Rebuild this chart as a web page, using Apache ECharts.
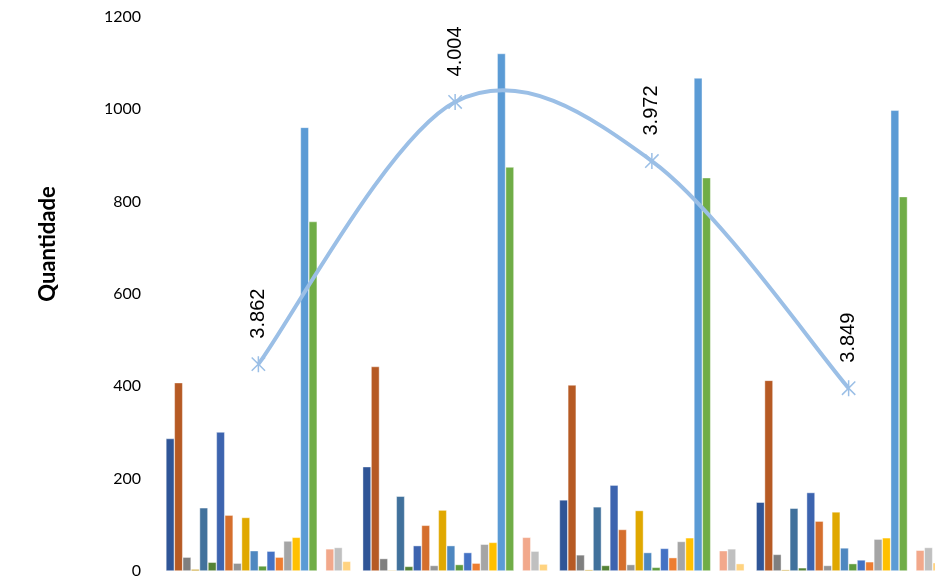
<!DOCTYPE html>
<html>
<head>
<meta charset="utf-8">
<script src="https://cdn.jsdelivr.net/npm/echarts@6/dist/echarts.min.js"></script>
<style>html,body{margin:0;padding:0;background:#fff}#c{width:935px;height:579px}</style>
</head>
<body>
<div id="c"></div>
<script>
var categories = ['Grupo 1', 'Grupo 2', 'Grupo 3', 'Grupo 4'];
var g1 = [287, 408, 30, 4, 137, 19, 301, 121, 17, 116, 44, 11, 43, 30, 65, 73, 961, 757, 0, 48, 51, 21];
var g2 = [226, 443, 27, 2, 162, 10, 55, 99, 12, 132, 55, 14, 40, 17, 58, 62, 1121, 875, 0, 73, 43, 15];
var g3 = [154, 403, 35, 3, 139, 12, 186, 90, 14, 131, 40, 8, 49, 29, 64, 72, 1068, 852, 0, 44, 48, 16];
var g4 = [149, 413, 36, 3, 136, 7, 170, 108, 12, 128, 50, 16, 24, 20, 69, 72, 998, 811, 0, 45, 51, 18];
var media = [3.862, 4.004, 3.972, 3.849];
var yTicks = [0, 200, 400, 600, 800, 1000, 1200];
var colors = ['#2F5597', '#B65A24', '#7F7F7F', '#BF9000', '#41719C', '#548235', '#3D64AF', '#D56F2D',
  '#959595', '#E0A800', '#4E87C0', '#5E9B3E', '#4472C4', '#ED7D31', '#A5A5A5', '#FFC000',
  '#5B9BD5', '#70AD47', '#264478', '#F2A88B', '#C0C0C0', '#FFD380'];
var lineColor = '#9BBFE6';

var groups = [g1, g2, g3, g4];
var series = [];
for (var i = 0; i < colors.length; i++) {
  series.push({
    name: 'Série ' + (i + 1),
    type: 'bar',
    barGap: '0%',
    barCategoryGap: '6%',
    data: groups.map(function (g) { return g[i]; }),
    itemStyle: { color: colors[i], borderColor: 'rgba(255,255,255,0.7)', borderWidth: 0.6 }
  });
}
// Smooth curve (Excel-like Catmull-Rom) drawn through the axis scales
series.push({
  name: 'Média (curva)',
  type: 'custom',
  yAxisIndex: 1,
  data: media.map(function (v, i) { return [i, v]; }),
  encode: { x: 0, y: 1 },
  z: 4,
  silent: true,
  clip: false,
  renderItem: function (params, api) {
    if (params.dataIndex !== 0) return null;
    var p = media.map(function (v, i) { return api.coord([i, v]); });
    var n = p.length;
    var d = 'M' + p[0][0] + ',' + p[0][1];
    for (var k = 0; k < n - 1; k++) {
      var p0 = p[Math.max(k - 1, 0)], p1 = p[k], p2 = p[k + 1], p3 = p[Math.min(k + 2, n - 1)];
      var c1x = p1[0] + (p2[0] - p0[0]) / 6, c1y = p1[1] + (p2[1] - p0[1]) / 6;
      var c2x = p2[0] - (p3[0] - p1[0]) / 6, c2y = p2[1] - (p3[1] - p1[1]) / 6;
      d += 'C' + c1x + ',' + c1y + ' ' + c2x + ',' + c2y + ' ' + p2[0] + ',' + p2[1];
    }
    return {
      type: 'path',
      shape: { pathData: d },
      style: { stroke: lineColor, lineWidth: 4, fill: 'none' }
    };
  }
});
series.push({
  name: 'Média',
  type: 'line',
  yAxisIndex: 1,
  data: media,
  symbol: 'path://M0,0L10,10M10,0L0,10M5,-1L5,11',
  symbolSize: 16,
  symbolKeepAspect: true,
  lineStyle: { opacity: 0, width: 0 },
  itemStyle: { color: 'none', borderColor: lineColor, borderWidth: 1.5 },
  label: {
    show: true,
    position: 'top',
    distance: 15,
    rotate: 90,
    align: 'left',
    verticalAlign: 'middle',
    fontFamily: 'Liberation Sans',
    fontSize: 20,
    color: '#000',
    formatter: function (p) { return p.value.toFixed(3); }
  },
  z: 5
});

var chart = echarts.init(document.getElementById('c'), null, { renderer: 'canvas' });
chart.setOption({
  animation: false,
  grid: { left: 160, width: 787, top: 17, bottom: 8, containLabel: false, outerBoundsMode: 'none' },
  graphic: [{
    type: 'text',
    x: 48,
    y: 244,
    rotation: Math.PI / 2,
    style: {
      text: 'Quantidade',
      align: 'center',
      verticalAlign: 'middle',
      fontFamily: 'Lato',
      fontWeight: 'bold',
      fontSize: 22,
      fill: '#000'
    }
  }],
  xAxis: {
    type: 'category',
    data: categories,
    axisLine: { show: false },
    axisTick: { show: false },
    axisLabel: { show: false },
    splitLine: { show: false }
  },
  yAxis: [{
    type: 'value',
    min: yTicks[0],
    max: yTicks[yTicks.length - 1],
    interval: 200,
    axisLine: { show: false },
    axisTick: { show: false },
    splitLine: { show: false },
    axisLabel: {
      fontFamily: 'Lato', fontSize: 16, color: '#000', margin: 19,
      formatter: function (v) { return String(v); }
    }
  }, {
    type: 'value',
    min: 3.75,
    max: 4.05,
    show: false,
    splitLine: { show: false }
  }],
  series: series
});
</script>
</body>
</html>
